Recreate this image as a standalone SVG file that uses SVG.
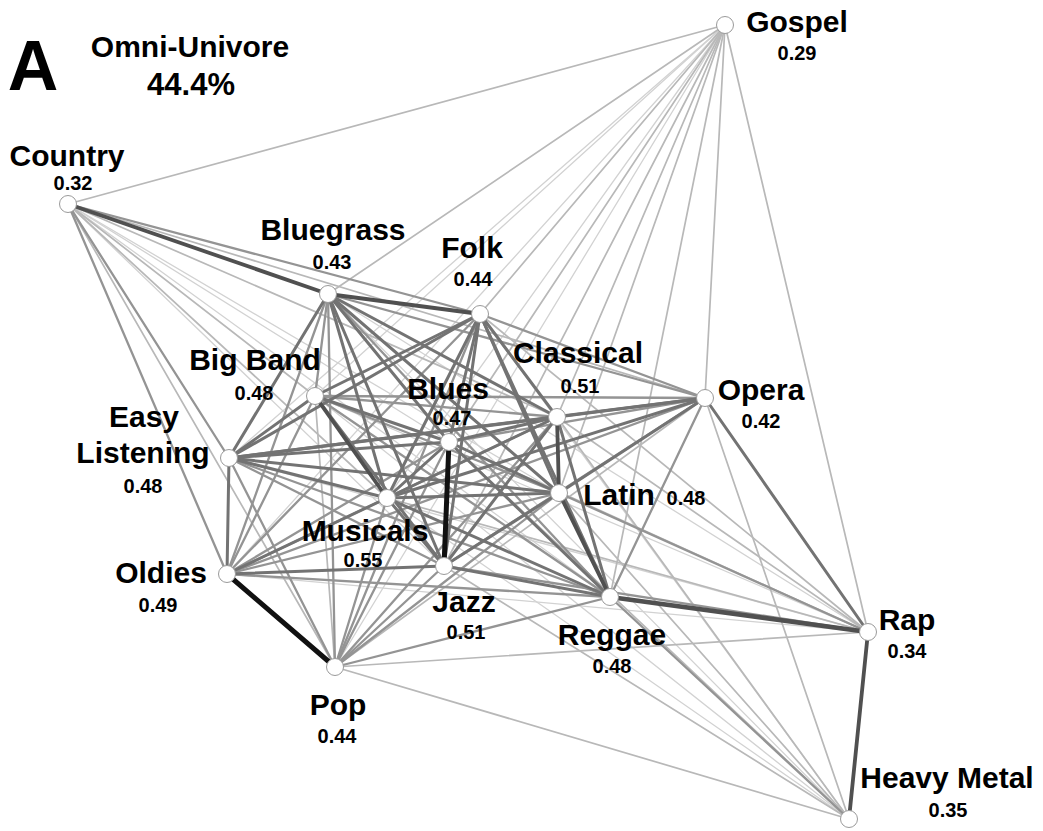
<svg xmlns="http://www.w3.org/2000/svg" width="1043" height="831" viewBox="0 0 1043 831">
<style>
text{font-family:"Liberation Sans",Arial,sans-serif;font-weight:bold;fill:#000;text-anchor:middle}
.n{font-size:30px}
.v{font-size:20px}
.e1{stroke:#d2d2d2;stroke-width:1.3}
.e2{stroke:#b8b8b8;stroke-width:1.7}
.e3{stroke:#949494;stroke-width:2.3}
.e4{stroke:#737373;stroke-width:3}
.e5{stroke:#505050;stroke-width:3.8}
.e6{stroke:#111;stroke-width:5}
circle{fill:#fff;stroke:#9a9a9a;stroke-width:1}
</style>
<rect width="1043" height="831" fill="#fff"/>
<g id="connectors" fill="none" stroke-linecap="round">
<g class="e1">
<line x1="725" y1="25" x2="315" y2="396"/><line x1="725" y1="25" x2="229" y2="458"/><line x1="725" y1="25" x2="387" y2="498"/><line x1="725" y1="25" x2="227" y2="574"/><line x1="725" y1="25" x2="335" y2="667"/>
<line x1="68" y1="204" x2="449" y2="442"/><line x1="68" y1="204" x2="444" y2="566"/><line x1="68" y1="204" x2="559" y2="493"/><line x1="68" y1="204" x2="610" y2="597"/>
<line x1="328" y1="294" x2="868" y2="632"/><line x1="328" y1="294" x2="849" y2="819"/><line x1="480" y1="314" x2="849" y2="819"/><line x1="315" y1="396" x2="868" y2="632"/><line x1="315" y1="396" x2="849" y2="819"/>
<line x1="229" y1="458" x2="868" y2="632"/><line x1="387" y1="498" x2="849" y2="819"/><line x1="227" y1="574" x2="868" y2="632"/>
</g>
<g class="e2">
<line x1="725" y1="25" x2="68" y2="204"/><line x1="725" y1="25" x2="328" y2="294"/><line x1="725" y1="25" x2="480" y2="314"/><line x1="725" y1="25" x2="557" y2="417"/><line x1="725" y1="25" x2="705" y2="398"/><line x1="725" y1="25" x2="449" y2="442"/><line x1="725" y1="25" x2="559" y2="493"/><line x1="725" y1="25" x2="444" y2="566"/><line x1="725" y1="25" x2="610" y2="597"/><line x1="725" y1="25" x2="868" y2="632"/>
<line x1="68" y1="204" x2="557" y2="417"/><line x1="68" y1="204" x2="705" y2="398"/><line x1="68" y1="204" x2="315" y2="396"/><line x1="68" y1="204" x2="387" y2="498"/><line x1="68" y1="204" x2="335" y2="667"/>
<line x1="480" y1="314" x2="868" y2="632"/><line x1="315" y1="396" x2="335" y2="667"/><line x1="557" y1="417" x2="868" y2="632"/><line x1="557" y1="417" x2="849" y2="819"/><line x1="705" y1="398" x2="335" y2="667"/><line x1="705" y1="398" x2="849" y2="819"/>
<line x1="449" y1="442" x2="868" y2="632"/><line x1="449" y1="442" x2="849" y2="819"/><line x1="559" y1="493" x2="849" y2="819"/><line x1="387" y1="498" x2="868" y2="632"/><line x1="444" y1="566" x2="849" y2="819"/><line x1="868" y1="632" x2="335" y2="667"/><line x1="335" y1="667" x2="849" y2="819"/>
</g>
<g class="e3">
<line x1="68" y1="204" x2="480" y2="314"/><line x1="68" y1="204" x2="229" y2="458"/><line x1="68" y1="204" x2="227" y2="574"/>
<line x1="328" y1="294" x2="315" y2="396"/><line x1="328" y1="294" x2="705" y2="398"/><line x1="328" y1="294" x2="227" y2="574"/><line x1="328" y1="294" x2="610" y2="597"/><line x1="328" y1="294" x2="335" y2="667"/>
<line x1="480" y1="314" x2="705" y2="398"/><line x1="480" y1="314" x2="227" y2="574"/><line x1="480" y1="314" x2="335" y2="667"/>
<line x1="315" y1="396" x2="557" y2="417"/><line x1="315" y1="396" x2="705" y2="398"/><line x1="315" y1="396" x2="559" y2="493"/><line x1="315" y1="396" x2="227" y2="574"/><line x1="315" y1="396" x2="610" y2="597"/>
<line x1="557" y1="417" x2="227" y2="574"/><line x1="557" y1="417" x2="335" y2="667"/>
<line x1="705" y1="398" x2="449" y2="442"/><line x1="705" y1="398" x2="227" y2="574"/><line x1="705" y1="398" x2="444" y2="566"/><line x1="705" y1="398" x2="610" y2="597"/>
<line x1="449" y1="442" x2="227" y2="574"/><line x1="449" y1="442" x2="335" y2="667"/>
<line x1="229" y1="458" x2="444" y2="566"/><line x1="229" y1="458" x2="610" y2="597"/><line x1="229" y1="458" x2="335" y2="667"/>
<line x1="559" y1="493" x2="227" y2="574"/><line x1="559" y1="493" x2="868" y2="632"/><line x1="559" y1="493" x2="335" y2="667"/>
<line x1="387" y1="498" x2="335" y2="667"/><line x1="227" y1="574" x2="610" y2="597"/><line x1="444" y1="566" x2="868" y2="632"/><line x1="444" y1="566" x2="335" y2="667"/><line x1="610" y1="597" x2="335" y2="667"/><line x1="610" y1="597" x2="849" y2="819"/>
</g>
<g class="e4">
<line x1="328" y1="294" x2="557" y2="417"/><line x1="328" y1="294" x2="449" y2="442"/><line x1="328" y1="294" x2="229" y2="458"/><line x1="328" y1="294" x2="559" y2="493"/><line x1="328" y1="294" x2="387" y2="498"/><line x1="328" y1="294" x2="444" y2="566"/>
<line x1="480" y1="314" x2="315" y2="396"/><line x1="480" y1="314" x2="557" y2="417"/><line x1="480" y1="314" x2="449" y2="442"/><line x1="480" y1="314" x2="229" y2="458"/><line x1="480" y1="314" x2="559" y2="493"/><line x1="480" y1="314" x2="387" y2="498"/><line x1="480" y1="314" x2="444" y2="566"/><line x1="480" y1="314" x2="610" y2="597"/>
<line x1="315" y1="396" x2="449" y2="442"/><line x1="315" y1="396" x2="229" y2="458"/><line x1="315" y1="396" x2="444" y2="566"/>
<line x1="557" y1="417" x2="705" y2="398"/><line x1="557" y1="417" x2="449" y2="442"/><line x1="557" y1="417" x2="229" y2="458"/><line x1="557" y1="417" x2="387" y2="498"/><line x1="557" y1="417" x2="444" y2="566"/><line x1="557" y1="417" x2="610" y2="597"/>
<line x1="705" y1="398" x2="229" y2="458"/><line x1="705" y1="398" x2="559" y2="493"/><line x1="705" y1="398" x2="387" y2="498"/><line x1="705" y1="398" x2="868" y2="632"/>
<line x1="449" y1="442" x2="229" y2="458"/><line x1="449" y1="442" x2="559" y2="493"/><line x1="449" y1="442" x2="387" y2="498"/><line x1="449" y1="442" x2="610" y2="597"/>
<line x1="229" y1="458" x2="559" y2="493"/><line x1="229" y1="458" x2="387" y2="498"/><line x1="229" y1="458" x2="227" y2="574"/>
<line x1="559" y1="493" x2="387" y2="498"/><line x1="559" y1="493" x2="444" y2="566"/>
<line x1="387" y1="498" x2="227" y2="574"/><line x1="387" y1="498" x2="444" y2="566"/><line x1="387" y1="498" x2="610" y2="597"/>
<line x1="227" y1="574" x2="444" y2="566"/><line x1="444" y1="566" x2="610" y2="597"/>
</g>
<g class="e5">
<line x1="68" y1="204" x2="328" y2="294"/><line x1="328" y1="294" x2="480" y2="314"/><line x1="315" y1="396" x2="387" y2="498"/><line x1="557" y1="417" x2="559" y2="493"/><line x1="559" y1="493" x2="610" y2="597"/><line x1="610" y1="597" x2="868" y2="632" stroke-width="4.5"/><line x1="868" y1="632" x2="849" y2="819"/>
</g>
<g class="e6">
<line x1="449" y1="442" x2="444" y2="566"/><line x1="227" y1="574" x2="335" y2="667"/>
</g>
</g>
<g id="title">
<text x="33" y="90" style="font-size:70px">A</text>
<text x="190" y="57" style="font-size:30px">Omni-Univore</text>
<text x="191" y="95" style="font-size:31px">44.4%</text>
</g>
<g id="gospel"><circle cx="725" cy="25" r="8.5"/><text class="n" x="797" y="32">Gospel</text><text class="v" x="797" y="60">0.29</text></g>
<g id="country"><circle cx="68" cy="204" r="8.5"/><text class="n" x="67" y="166">Country</text><text class="v" x="73" y="190">0.32</text></g>
<g id="bluegrass"><circle cx="328" cy="294" r="8.5"/><text class="n" x="333" y="240">Bluegrass</text><text class="v" x="332" y="269">0.43</text></g>
<g id="folk"><circle cx="480" cy="314" r="8.5"/><text class="n" x="472" y="258">Folk</text><text class="v" x="473" y="286">0.44</text></g>
<g id="bigband"><circle cx="315" cy="396" r="8.5"/><text class="n" x="255" y="370">Big Band</text><text class="v" x="254" y="400">0.48</text></g>
<g id="classical"><circle cx="557" cy="417" r="8.5"/><text class="n" x="578" y="363">Classical</text><text class="v" x="580" y="393">0.51</text></g>
<g id="opera"><circle cx="705" cy="398" r="8.5"/><text class="n" x="761" y="400">Opera</text><text class="v" x="761" y="428">0.42</text></g>
<g id="blues"><circle cx="449" cy="442" r="8.5"/><text class="n" x="448" y="399">Blues</text><text class="v" x="452" y="425">0.47</text></g>
<g id="easylistening"><circle cx="229" cy="458" r="8.5"/><text class="n" x="144" y="427">Easy</text><text class="n" x="143" y="463">Listening</text><text class="v" x="143" y="493">0.48</text></g>
<g id="latin"><circle cx="559" cy="493" r="8.5"/><text class="n" x="619" y="505">Latin</text><text class="v" x="686" y="505">0.48</text></g>
<g id="musicals"><circle cx="387" cy="498" r="8.5"/><text class="n" x="365" y="541">Musicals</text><text class="v" x="363" y="567">0.55</text></g>
<g id="oldies"><circle cx="227" cy="574" r="8.5"/><text class="n" x="161" y="583">Oldies</text><text class="v" x="158" y="612">0.49</text></g>
<g id="jazz"><circle cx="444" cy="566" r="8.5"/><text class="n" x="464" y="612">Jazz</text><text class="v" x="466" y="639">0.51</text></g>
<g id="reggae"><circle cx="610" cy="597" r="8.5"/><text class="n" x="612" y="645">Reggae</text><text class="v" x="612" y="673">0.48</text></g>
<g id="rap"><circle cx="868" cy="632" r="8.5"/><text class="n" x="907" y="630">Rap</text><text class="v" x="907" y="658">0.34</text></g>
<g id="pop"><circle cx="335" cy="667" r="8.5"/><text class="n" x="338" y="715">Pop</text><text class="v" x="337" y="743">0.44</text></g>
<g id="heavymetal"><circle cx="849" cy="819" r="8.5"/><text class="n" x="947" y="788">Heavy Metal</text><text class="v" x="948" y="817">0.35</text></g>
</svg>
